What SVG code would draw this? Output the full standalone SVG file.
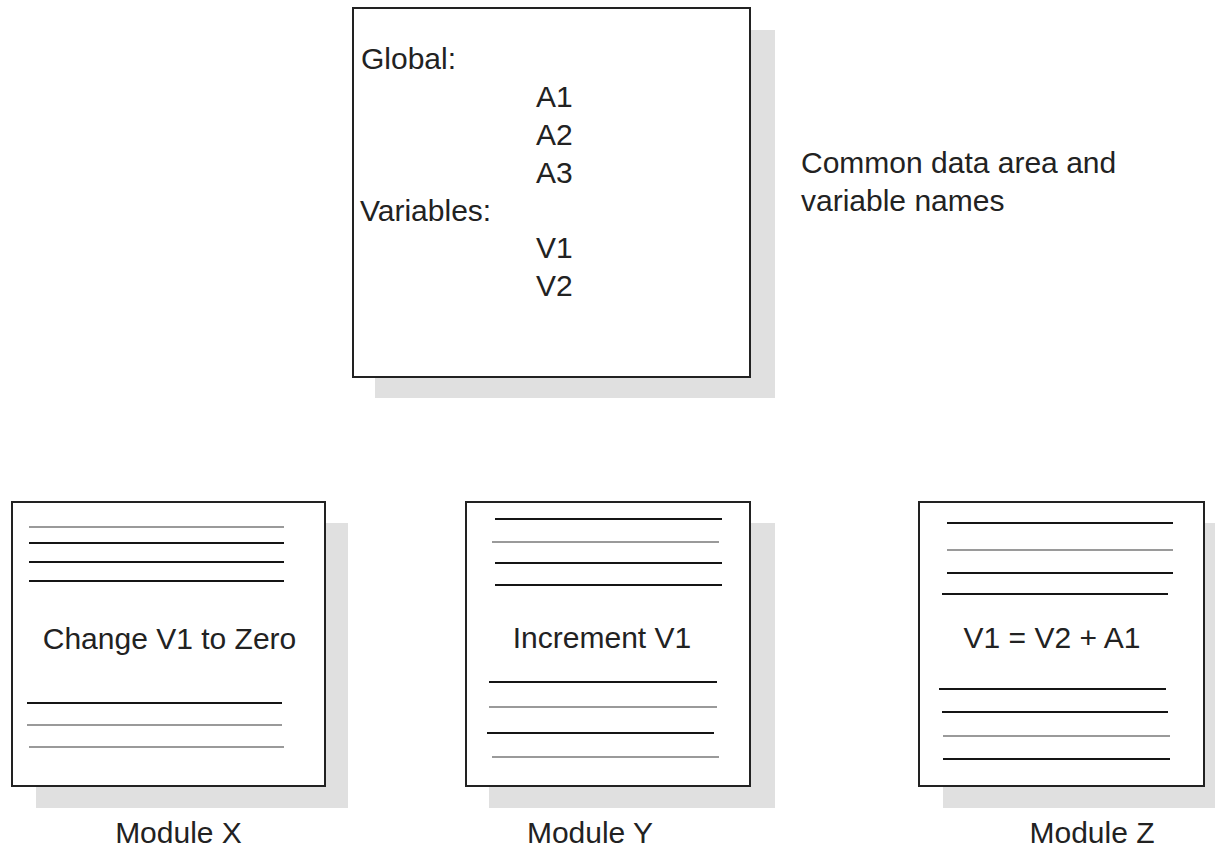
<svg xmlns="http://www.w3.org/2000/svg" width="1215" height="849" viewBox="0 0 1215 849">
<style>
text{font-family:"Liberation Sans",Arial,sans-serif;font-size:30px;fill:#222}
.shadow{fill:#e0e0e0}
.box{fill:#fff;stroke:#222;stroke-width:2}
.dk{stroke:#151515;stroke-width:2}
.lt{stroke:#9a9a9a;stroke-width:2}
.mid{text-anchor:middle}
</style>
<rect width="1215" height="849" fill="#fff"/>
<g id="common-data">
<rect class="shadow" x="375" y="30" width="400" height="368"/>
<rect class="box" x="353" y="8" width="397" height="369"/>
<text x="361" y="69">Global:</text>
<text x="536" y="107">A1</text>
<text x="536" y="145">A2</text>
<text x="536" y="183">A3</text>
<text x="360" y="221">Variables:</text>
<text x="536" y="258">V1</text>
<text x="536" y="296">V2</text>
</g>
<g id="caption">
<text x="801" y="173">Common data area and</text>
<text x="801" y="211">variable names</text>
</g>
<g id="module-x">
<rect class="shadow" x="36" y="523" width="312" height="285"/>
<rect class="box" x="12" y="502" width="313" height="284"/>
<line class="lt" x1="29" y1="527" x2="284" y2="527"/>
<line class="dk" x1="29" y1="543" x2="284" y2="543"/>
<line class="dk" x1="29" y1="562" x2="284" y2="562"/>
<line class="dk" x1="29" y1="581" x2="284" y2="581"/>
<text class="mid" x="169.5" y="649">Change V1 to Zero</text>
<line class="dk" x1="27" y1="703" x2="282" y2="703"/>
<line class="lt" x1="27" y1="725" x2="282" y2="725"/>
<line class="lt" x1="29" y1="747" x2="284" y2="747"/>
<text class="mid" x="178.5" y="843">Module X</text>
</g>
<g id="module-y">
<rect class="shadow" x="489" y="523" width="286" height="285"/>
<rect class="box" x="466" y="502" width="284" height="284"/>
<line class="dk" x1="495" y1="519" x2="722" y2="519"/>
<line class="lt" x1="492" y1="542" x2="719" y2="542"/>
<line class="dk" x1="495" y1="563" x2="722" y2="563"/>
<line class="dk" x1="495" y1="585" x2="722" y2="585"/>
<text class="mid" x="602" y="648">Increment V1</text>
<line class="dk" x1="489" y1="682" x2="717" y2="682"/>
<line class="lt" x1="489" y1="707" x2="717" y2="707"/>
<line class="dk" x1="487" y1="733" x2="714" y2="733"/>
<line class="lt" x1="492" y1="757" x2="719" y2="757"/>
<text class="mid" x="590" y="843">Module Y</text>
</g>
<g id="module-z">
<rect class="shadow" x="943" y="523" width="285" height="285"/>
<rect class="box" x="919" y="502" width="285" height="284"/>
<line class="dk" x1="947" y1="523" x2="1173" y2="523"/>
<line class="lt" x1="947" y1="550" x2="1173" y2="550"/>
<line class="dk" x1="947" y1="573" x2="1173" y2="573"/>
<line class="dk" x1="942" y1="594" x2="1168" y2="594"/>
<text class="mid" x="1052" y="648">V1 = V2 + A1</text>
<line class="dk" x1="939" y1="689" x2="1166" y2="689"/>
<line class="dk" x1="942" y1="712" x2="1168" y2="712"/>
<line class="lt" x1="943" y1="736" x2="1170" y2="736"/>
<line class="dk" x1="943" y1="759" x2="1170" y2="759"/>
<text class="mid" x="1092" y="843">Module Z</text>
</g>
<g id="connectors"></g>
</svg>
